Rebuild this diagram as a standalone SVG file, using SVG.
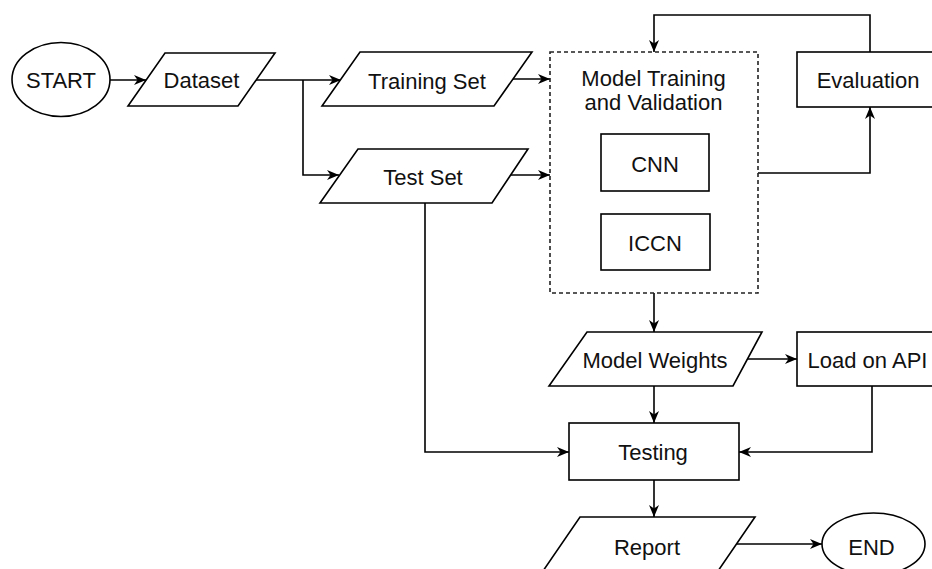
<svg xmlns="http://www.w3.org/2000/svg" width="932" height="569" viewBox="0 0 932 569">
  <style>
    .shape { fill: #ffffff; stroke: #000000; stroke-width: 1.6; }
    .dashed { fill: none; stroke: #222222; stroke-width: 1.6; stroke-dasharray: 4 3; }
    .label { font-family: "Liberation Sans", Arial, Helvetica, sans-serif; font-size: 22px; fill: #111111; text-anchor: middle; }
    .edge { fill: none; stroke: #000000; stroke-width: 1.6; }
    .arrow { marker-end: url(#head); }
  </style>
  <defs>
    <marker id="head" markerUnits="userSpaceOnUse" markerWidth="13" markerHeight="11" viewBox="0 0 13 11" refX="12" refY="5.5" orient="auto">
      <path d="M0,0.5 L12,5.5 L0,10.5 L3.5,5.5 Z" fill="#000000"/>
    </marker>
  </defs>

  <rect width="932" height="569" fill="#ffffff"/>

  <!-- connectors -->
  <g id="connectors">
    <path class="edge arrow" d="M110,80 H146"/>
    <path class="edge arrow" d="M256,80 H341"/>
    <path class="edge arrow" d="M303,80 V175 H339"/>
    <path class="edge arrow" d="M513,79 H550"/>
    <path class="edge arrow" d="M510,175 H550"/>
    <path class="edge arrow" d="M425,203 V452 H569"/>
    <path class="edge arrow" d="M758,173 H870 V107"/>
    <path class="edge arrow" d="M870,52 V15 H654 V52"/>
    <path class="edge arrow" d="M654,293 V332"/>
    <path class="edge arrow" d="M747,359 H797"/>
    <path class="edge arrow" d="M654,386 V423"/>
    <path class="edge arrow" d="M872,386 V452 H739"/>
    <path class="edge arrow" d="M654,480 V517"/>
    <path class="edge arrow" d="M737,544 H822"/>
  </g>

  <g id="start">
    <ellipse class="shape" cx="61" cy="79.5" rx="49" ry="37"/>
    <text class="label" x="61" y="88">START</text>
  </g>

  <g id="dataset">
    <polygon class="shape" points="165,53 275,53 238,106 128,106"/>
    <text class="label" x="201.5" y="88">Dataset</text>
  </g>

  <g id="training-set">
    <polygon class="shape" points="360,52 532,52 494,106 322,106"/>
    <text class="label" x="427" y="89">Training Set</text>
  </g>

  <g id="test-set">
    <polygon class="shape" points="358,149 528,149 492,203 320,203"/>
    <text class="label" x="423" y="185">Test Set</text>
  </g>

  <g id="model-training">
    <rect class="dashed" x="550" y="52" width="208" height="241"/>
    <text class="label" x="653.5" y="86">Model Training</text>
    <text class="label" x="653.5" y="110">and Validation</text>
  </g>

  <g id="cnn">
    <rect class="shape" x="601" y="134" width="108" height="57"/>
    <text class="label" x="655" y="172">CNN</text>
  </g>

  <g id="iccn">
    <rect class="shape" x="601" y="214" width="109" height="56"/>
    <text class="label" x="655" y="251">ICCN</text>
  </g>

  <g id="evaluation">
    <rect class="shape" x="797" y="52" width="142" height="55"/>
    <text class="label" x="868" y="88">Evaluation</text>
  </g>

  <g id="model-weights">
    <polygon class="shape" points="587,332 762,332 733,386 549,386"/>
    <text class="label" x="655" y="368">Model Weights</text>
  </g>

  <g id="load-on-api">
    <rect class="shape" x="797" y="332" width="142" height="54"/>
    <text class="label" x="867.5" y="368">Load on API</text>
  </g>

  <g id="testing">
    <rect class="shape" x="569" y="423" width="170" height="57"/>
    <text class="label" x="653" y="460">Testing</text>
  </g>

  <g id="report">
    <polygon class="shape" points="580,517 755,517 718,571 543,571"/>
    <text class="label" x="647" y="555">Report</text>
  </g>

  <g id="end">
    <ellipse class="shape" cx="873.5" cy="544" rx="51.5" ry="31"/>
    <text class="label" x="871.5" y="555">END</text>
  </g>
</svg>
